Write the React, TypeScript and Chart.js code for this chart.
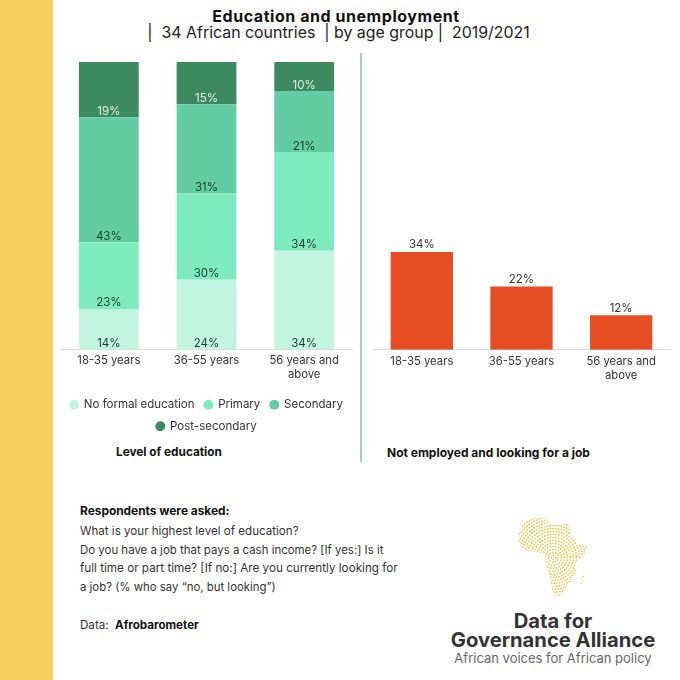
import React, { useEffect, useRef } from "react";
import { Chart, registerables } from "chart.js";

Chart.register(...registerables);

const ageGroups = ["18-35 years", "36-55 years", ["56 years and", "above"]];
const noFormal = [14.2, 24.3, 34.4];
const primary = [23.2, 30.0, 34.3];
const secondary = [43.4, 31.0, 21.2];
const postSecondary = [19.2, 14.7, 10.1];
const lookingForJob = [34, 22, 12];

const FONT = "Inter, 'Open Sans', sans-serif";
const TEXT = "#333333";

const segmentLabels = {
  id: "segmentLabels",
  afterDatasetsDraw(chart: any) {
    const { ctx } = chart;
    ctx.save();
    ctx.font = `11.5px ${FONT}`;
    ctx.textAlign = "center";
    ctx.textBaseline = "middle";
    chart.data.datasets.forEach((ds: any, i: number) => {
      ctx.fillStyle = i === 3 ? "#d9efe4" : "#1f3d30";
      chart.getDatasetMeta(i).data.forEach((el: any, j: number) => {
        ctx.fillText(`${Math.round(ds.data[j])}%`, el.x, el.base - 6);
      });
    });
    ctx.restore();
  },
};

const topLabels = {
  id: "topLabels",
  afterDatasetsDraw(chart: any) {
    const { ctx } = chart;
    ctx.save();
    ctx.font = `11.5px ${FONT}`;
    ctx.textAlign = "center";
    ctx.textBaseline = "middle";
    ctx.fillStyle = TEXT;
    chart.data.datasets.forEach((ds: any, i: number) => {
      chart.getDatasetMeta(i).data.forEach((el: any, j: number) => {
        ctx.fillText(`${ds.data[j]}%`, el.x, el.y - 7);
      });
    });
    ctx.restore();
  },
};

const xAxis = {
  stacked: true,
  grid: { display: false, drawTicks: false },
  border: { color: "#dddddd" },
  ticks: {
    color: TEXT,
    maxRotation: 0,
    autoSkip: false,
    padding: 3.5,
    font: { family: FONT, size: 11.3, lineHeight: 1.25 },
  },
};
const yAxis = { stacked: true, display: false, min: 0, max: 100 };

function App() {
  const leftRef = useRef<HTMLCanvasElement>(null);
  const rightRef = useRef<HTMLCanvasElement>(null);

  useEffect(() => {
    const left = new Chart(leftRef.current!, {
      type: "bar",
      data: {
        labels: ageGroups as any,
        datasets: [
          { label: "No formal education", data: noFormal, backgroundColor: "#c1f5e2" },
          { label: "Primary", data: primary, backgroundColor: "#7eeabf" },
          { label: "Secondary", data: secondary, backgroundColor: "#62cda3" },
          { label: "Post-secondary", data: postSecondary, backgroundColor: "#3e8a60" },
        ],
      },
      options: {
        animation: false,
        responsive: false,
        layout: { padding: { top: 12, bottom: 0, left: 0, right: 0 } },
        datasets: { bar: { categoryPercentage: 1, barPercentage: 0.612 } },
        scales: {
          x: {
            ...xAxis,
            afterFit(scale: any) {
              scale.height += 4;
            },
          },
          y: yAxis,
        } as any,
        plugins: {
          tooltip: { enabled: false },
          legend: {
            position: "bottom",
            labels: {
              color: TEXT,
              usePointStyle: true,
              pointStyle: "circle",
              boxWidth: 8,
              boxHeight: 7,
              padding: 10,
              font: { family: FONT, size: 11.5 },
            },
          },
        },
      },
      plugins: [segmentLabels],
    });
    const right = new Chart(rightRef.current!, {
      type: "bar",
      data: {
        labels: ageGroups as any,
        datasets: [
          { label: "Not employed and looking for a job", data: lookingForJob, backgroundColor: "#e64d23" },
        ],
      },
      options: {
        animation: false,
        responsive: false,
        layout: { padding: { top: 12, bottom: 0, left: 0, right: 0 } },
        datasets: { bar: { categoryPercentage: 1, barPercentage: 0.625 } },
        scales: {
          x: { ...xAxis, ticks: { ...xAxis.ticks, padding: 5 } },
          y: yAxis,
        } as any,
        plugins: { legend: { display: false }, tooltip: { enabled: false } },
      },
      plugins: [topLabels],
    });
    return () => {
      left.destroy();
      right.destroy();
    };
  }, []);

  const text = (
    content: React.ReactNode,
    x: number,
    y: number,
    size: number,
    extra: React.CSSProperties = {}
  ) => (
    <div
      style={{
        position: "absolute",
        left: x,
        top: y,
        fontSize: size,
        lineHeight: 1,
        whiteSpace: "pre",
        color: TEXT,
        fontFamily: FONT,
        ...extra,
      }}
    >
      {content}
    </div>
  );

  const africa =
    "235,100 250,70 285,52 320,55 325,72 375,72 385,70 395,110 420,135 445,135 430,165 405,190 410,215 395,240 375,270 360,288 340,285 330,240 320,195 315,165 290,155 250,150 235,125";
  const madagascar = "430,225 440,222 425,250 418,248";

  return (
    <div style={{ position: "absolute", left: 0, top: 0, width: 680, height: 680, overflow: "hidden", background: "#fff" }}>
      <div style={{ position: "absolute", left: 0, top: 0, width: 53, height: 680, background: "#f5d25d" }} />
      {text("Education and unemployment", 0, 8, 16, { width: 672, textAlign: "center", fontWeight: 700, color: "#111", letterSpacing: 0.55 })}
      {text("|  34 African countries  | by age group |  2019/2021", 0, 24.5, 15.9, { width: 677, textAlign: "center", color: "#222" })}

      <canvas ref={leftRef} width={293} height={392} style={{ position: "absolute", left: 60, top: 50 }} />
      <canvas ref={rightRef} width={299} height={338} style={{ position: "absolute", left: 372, top: 50 }} />
      <div style={{ position: "absolute", left: 360, top: 53, width: 1.5, height: 409, background: "#a5cfc0" }} />

      {text("Level of education", 116, 447, 11.8, { fontWeight: 700, color: "#111" })}
      {text("Not employed and looking for a job", 387, 447, 12, { fontWeight: 700, color: "#111" })}

      {text("Respondents were asked:", 80, 505, 11.9, { fontWeight: 700, color: "#111" })}
      {text("What is your highest level of education?", 80, 526, 11.6)}
      {text("Do you have a job that pays a cash income? [If yes:] Is it", 80, 545, 11.45)}
      {text("full time or part time? [If no:] Are you currently looking for", 80, 563, 11.7)}
      {text("a job? (% who say \u201Cno, but looking\u201D)", 80, 582, 11.4)}
      <div style={{ position: "absolute", left: 80, top: 620, fontSize: 11.6, lineHeight: 1, color: TEXT, fontFamily: FONT, whiteSpace: "pre" }}>
        {"Data:  "}
        <b style={{ color: "#111" }}>Afrobarometer</b>
      </div>

      <svg width={240} height={110} viewBox="0 0 720 330" style={{ position: "absolute", left: 440, top: 500 }}>
        <defs>
          <clipPath id="africa">
            <polygon points={africa} />
            <polygon points={madagascar} />
          </clipPath>
        </defs>
        <g clipPath="url(#africa)" fill="none" stroke="#f4c545" strokeWidth={5.5} strokeLinecap="round" strokeDasharray="0 8.5">
          {[6, 15, 24, 33, 42, 51, 60, 69, 78, 87, 96, 105, 114, 123, 132, 141, 150].map((r) => (
            <circle key={r} cx={340} cy={172} r={r} />
          ))}
        </g>
      </svg>
      {text("Data for", 440, 611, 20.2, { width: 226, textAlign: "center", fontWeight: 700, color: "#333" })}
      {text("Governance Alliance", 440, 630, 20.2, { width: 226, textAlign: "center", fontWeight: 700, color: "#333" })}
      {text("African voices for African policy", 440, 652, 13, { width: 226, textAlign: "center", color: "#666" })}
    </div>
  );
}

export default App;
